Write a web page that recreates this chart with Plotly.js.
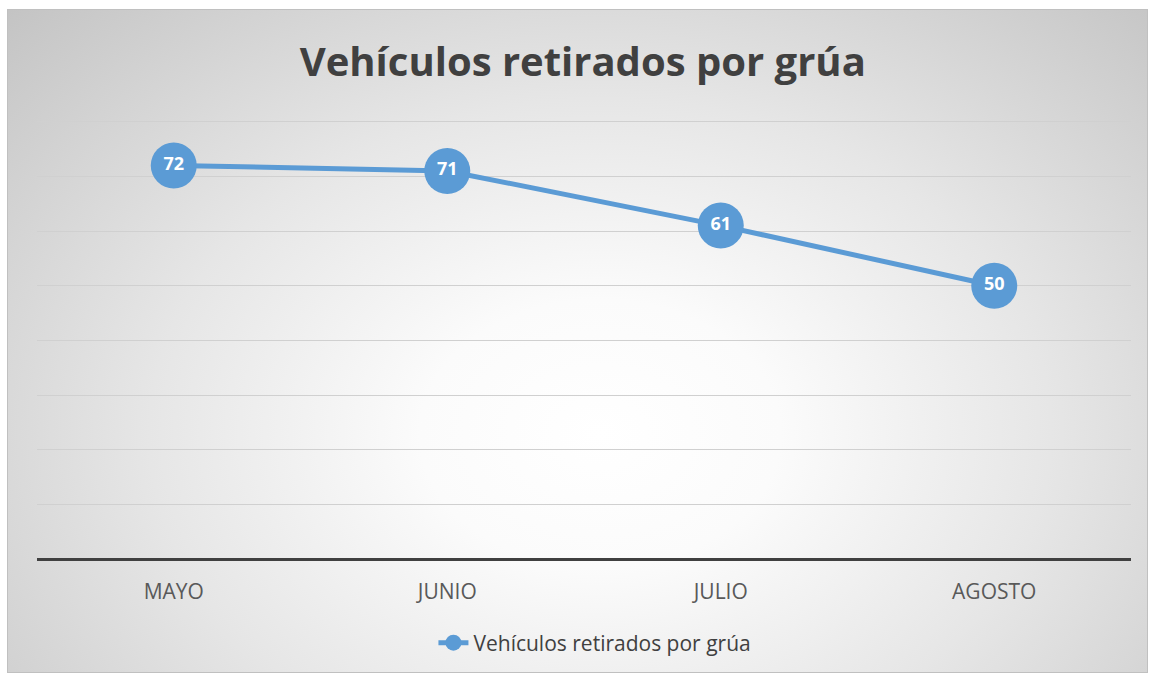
<!DOCTYPE html>
<html>
<head>
<meta charset="utf-8">
<script src="https://cdn.plot.ly/plotly-3.0.1.min.js"></script>
<style>
html,body{margin:0;padding:0;width:1154px;height:675px;background:#fff;overflow:hidden;}
#bg{position:absolute;left:7px;top:9px;width:1139px;height:662px;border:1px solid #c0c0c0;
background:radial-gradient(ellipse 72% 92% at 52% 64%, #ffffff 0%, #fbfbfb 22%, #e6e6e6 55%, #c4c4c4 100%);}
#chart{position:absolute;left:0;top:0;width:1154px;height:675px;}
</style>
</head>
<body>
<div id="bg"></div>
<div id="chart"></div>
<script>
const categories = ["MAYO", "JUNIO", "JULIO", "AGOSTO"];
const values = [72, 71, 61, 50];
const seriesName = "Vehículos retirados por grúa";
const chartTitle = "Vehículos retirados por grúa";

const font = "Open Sans, Liberation Sans, sans-serif";

const trace = {
  x: categories,
  y: values,
  name: seriesName,
  type: "scatter",
  mode: "lines+markers+text",
  line: {color: "#5b9bd5", width: 5},
  marker: {color: "#5b9bd5", size: 46},
  text: values.map(String),
  textposition: "middle center",
  textfont: {family: font, size: 18, color: "#ffffff", weight: "bold"},
  cliponaxis: false,
  hoverinfo: "x+y"
};

const layout = {
  width: 1154, height: 675,
  paper_bgcolor: "rgba(0,0,0,0)",
  plot_bgcolor: "rgba(0,0,0,0)",
  margin: {l: 37, r: 23, t: 119, b: 116},
  title: {
    text: "<b>" + chartTitle + "</b>",
    font: {family: font, size: 40, color: "#404040"},
    x: 0.505, xanchor: "center",
    y: 1 - 62/675, yref: "container", yanchor: "middle"
  },
  xaxis: {
    type: "category",
    range: [-0.5, 3.5],
    showgrid: false, showline: false, zeroline: false,
    ticks: "",
    ticklabelstandoff: 18,
    tickfont: {family: font, size: 21, color: "#595959"},
    fixedrange: true
  },
  yaxis: {
    range: [0, 80.5],
    dtick: 10,
    showticklabels: false,
    ticks: "",
    showgrid: true, gridcolor: "#d0d0d0", gridwidth: 1,
    zeroline: true, zerolinecolor: "#404040", zerolinewidth: 3,
    showline: false,
    fixedrange: true
  },
  showlegend: true,
  legend: {
    orientation: "h",
    x: 0.51, xanchor: "center",
    y: 1 - 643/675, yref: "container", yanchor: "middle",
    font: {family: font, size: 21, color: "#404040"},
    bgcolor: "rgba(0,0,0,0)"
  }
};

Plotly.newPlot("chart", [trace], layout, {displayModeBar: false, staticPlot: true});
</script>
</body>
</html>
